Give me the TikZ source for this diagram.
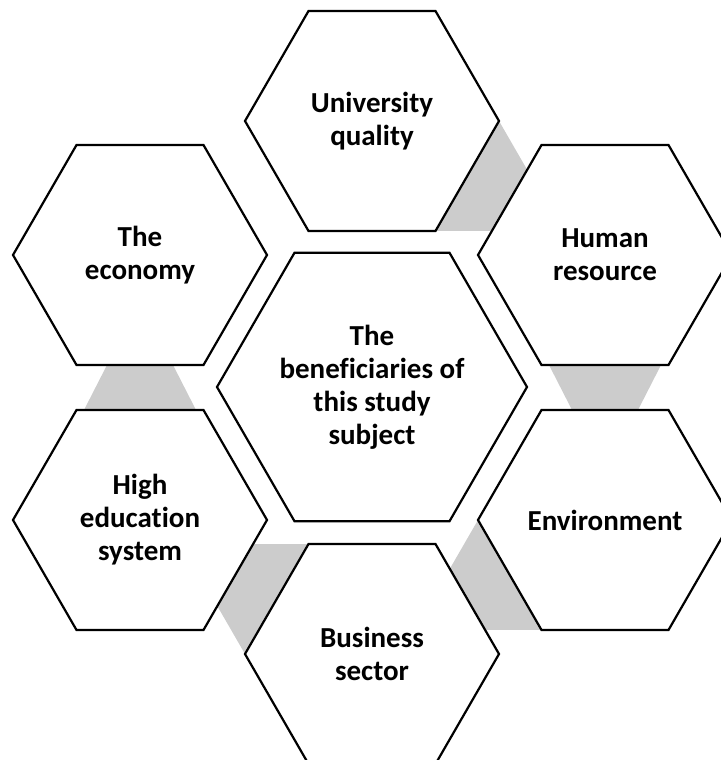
\documentclass[tikz,border=0pt]{standalone}
\usepackage{fontspec}
\setmainfont{Carlito}[Ligatures={NoCommon}]
\usetikzlibrary{shapes.geometric,backgrounds}
\definecolor{linkgray}{RGB}{204,204,204}
\tikzset{
  hexcell/.style={regular polygon,regular polygon sides=6,draw=black,
    line width=2.2pt,fill=white,inner sep=0pt,outer sep=0pt,
    minimum size=254pt,align=center,
    font=\fontsize{29}{33}\selectfont\bfseries},
  hubcell/.style={hexcell,minimum size=310pt},
  link/.style={fill=linkgray,draw=none}
}
\begin{document}
\begin{tikzpicture}[x=1pt,y=1pt]
  \useasboundingbox (0,0) rectangle (720,760);
  % hexagons
  \node[hubcell] (hub) at (372,373) {The\\beneficiaries of\\this study\\subject};
  \node[hexcell] (quality) at (372,639) {University\\quality};
  \node[hexcell] (human) at (605,505) {Human\\resource};
  \node[hexcell] (environment) at (605,240) {Environment};
  \node[hexcell] (business) at (372,106) {Business\\sector};
  \node[hexcell] (higher) at (140,240) {High\\education\\system};
  \node[hexcell] (economy) at (140,505) {The\\economy};
  % gray links behind
  \begin{pgfonlayer}{background}
    \fill[link] (quality.0) -- (quality.-60) -- ([xshift=127pt]quality.-60) -- cycle;
    \fill[link] ([xshift=-56pt]human.south) -- ([xshift=56pt]human.south)
      -- ([xshift=33pt]environment.north) -- ([xshift=-33pt]environment.north) -- cycle;
    \fill[link] (environment.180) -- (environment.-120)
      -- ([xshift=-127pt]environment.-120) -- cycle;
    \fill[link] (business.180) -- (business.120) -- ([xshift=-127pt]business.120) -- cycle;
    \fill[link] ([xshift=-33pt]economy.south) -- ([xshift=33pt]economy.south)
      -- ([xshift=56pt]higher.north) -- ([xshift=-56pt]higher.north) -- cycle;
  \end{pgfonlayer}
\end{tikzpicture}
\end{document}
